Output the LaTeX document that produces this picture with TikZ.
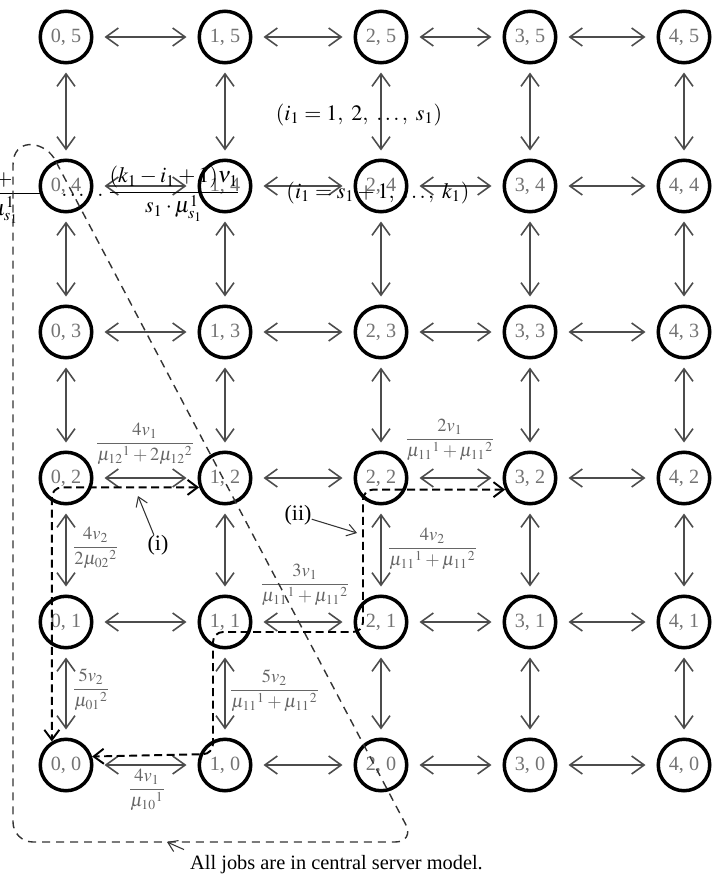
\documentclass[tikz,border=0pt]{standalone}
\usepackage{amsmath}
\usepackage{mathptmx}
\usepackage[no-math]{fontspec}
\setmainfont{Liberation Serif}
\usetikzlibrary{arrows.meta}

\tikzset{
  stnode/.style={circle, draw, line width=2pt, minimum size=1.03cm, inner sep=0pt,
    text=black!55, font=\fontsize{11.5}{13}\selectfont},
  hlink/.style={{Straight Barb[length=2.5mm,width=3.6mm]}-{Straight Barb[length=2.5mm,width=3.6mm]},
    draw=black!70, line width=0.9pt, shorten <=2.2mm, shorten >=2.2mm},
  vlink/.style={hlink, shorten <=1.6mm, shorten >=1.6mm},
  rate/.style={text=black!60, font=\fontsize{10.5}{12}\selectfont, inner sep=0pt},
  bigmath/.style={font=\fontsize{12.5}{15}\selectfont, inner sep=0pt},
  jobpath/.style={{Straight Barb[length=2mm,width=3mm]}-{Straight Barb[length=2mm,width=3mm]},
    line width=1.1pt, dash pattern=on 1.6mm off 0.9mm, rounded corners=2mm},
  region/.style={draw=black!80, line width=0.8pt, dash pattern=on 1.6mm off 1.2mm, rounded corners=4mm},
  pointer/.style={-{Straight Barb[length=1.8mm,width=2.4mm]}, line width=0.6pt, draw=black!80},
}

\begin{document}
\begin{tikzpicture}[x=0.02cm, y=-0.02cm]
    \useasboundingbox (0,0) rectangle (713,876);

    % states (i, j)
    \foreach \c/\x in {0/66,1/225,2/381,3/530,4/684}{
        \foreach \r/\y in {0/765,1/622,2/478,3/332,4/186,5/37}{
            \node[stnode] (n\c\r) at (\x,\y) {\c, \r};
        }
    }

    \foreach \c/\d in {0/1,1/2,2/3,3/4}
        \foreach \r in {0,...,5}
            \draw[hlink] (n\c\r) -- (n\d\r);

    \foreach \c in {0,...,4}
        \foreach \r/\s in {0/1,1/2,2/3,3/4,4/5}
            \draw[vlink] (n\c\r) -- (n\c\s);

    % ranges of i_1
    \node[bigmath] (irangea) at (359,115) {$(i_1 = 1,\ 2,\ \ldots,\ s_1)$};
    \node[bigmath] (irangeb) at (378,193) {$(i_1 = s_1 + 1,\ \ldots,\ k_1)$};
    \node[bigmath] (kfrac) at (174,194) {$\dfrac{(k_1 - i_1 + 1)\nu_1}{s_1 \cdot \mu^{1}_{s_1}}$};
    \node[bigmath, anchor=base west] (dots) at (61,196) {$\ldots\hspace{6pt}.$};
    \draw[line width=0.5pt] (0,193) -- (40,193);
    \node[bigmath] (fragplus) at (4,180) {$+$};
    \node[bigmath, anchor=east] (fragmu) at (19,210) {$\mu^{1}_{s_1}$};

    % rates
    \node[rate] (ra) at (145,444) {$\dfrac{4v_1}{\mu_{12}{}^{1}+2\mu_{12}{}^{2}}$};
    \node[rate] (rb) at (450,440) {$\dfrac{2v_1}{\mu_{11}{}^{1}+\mu_{11}{}^{2}}$};
    \node[rate, anchor=west] (rc) at (72,548) {$\dfrac{4v_2}{2\mu_{02}{}^{2}}$};
    \node[rate, anchor=west] (rd) at (387,549) {$\dfrac{4v_2}{\mu_{11}{}^{1}+\mu_{11}{}^{2}}$};
    \node[rate] (re) at (305,585) {$\dfrac{3v_1}{\mu_{11}{}^{1}+\mu_{11}{}^{2}}$};
    \node[rate, anchor=west] (rf) at (72,690) {$\dfrac{5v_2}{\mu_{01}{}^{2}}$};
    \node[rate, anchor=west] (rg) at (229,691) {$\dfrac{5v_2}{\mu_{11}{}^{1}+\mu_{11}{}^{2}}$};
    \node[rate] (rh) at (147,790) {$\dfrac{4v_1}{\mu_{10}{}^{1}}$};

    % job paths (i) and (ii)
    \draw[jobpath] (n12.200) -| (n00.121);
    \draw[jobpath] (n32.205) -| (363,632) -| (213,754) -- (n00.18);

    \draw[region] (54,158) .. controls (42,140) and (13,138) .. (13,185)
        -- (13,842) -- (415,842) -- (54,158);

    \node[bigmath] (lbli) at (158,545) {(i)};
    \coordinate (tipi) at (138,496);
    \draw[pointer] (lbli) -- (tipi);

    \node[bigmath] (lblii) at (298,515) {(ii)};
    \coordinate (tipii) at (357,533);
    \draw[pointer] (lblii) -- (tipii);

    \node[font=\fontsize{11.6}{13}\selectfont, anchor=west] (note) at (184,865)
        {All jobs are in central server model.};
    \coordinate (tipnote) at (167,842);
    \draw[pointer] (note.north west) -- (tipnote);
\end{tikzpicture}
\end{document}
